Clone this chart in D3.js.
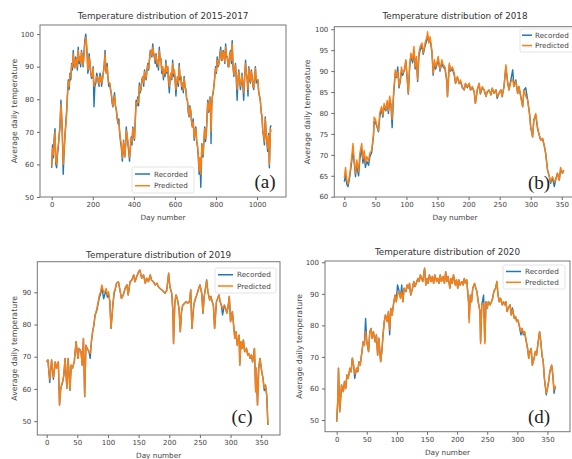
<!DOCTYPE html>
<html>
<head>
<meta charset="utf-8">
<script src="https://cdn.jsdelivr.net/npm/d3@7"></script>
<style>
  body { margin: 0; background: #fff; }
  svg { display: block; font-family: "DejaVu Sans", sans-serif; }
</style>
</head>
<body>
<div id="chart"></div>
<script>
// Series labels and colours
const seriesNames = ['Recorded', 'Predicted'];
const seriesColors = ['#1f77b4', '#ff7f0e'];

// (a) 2015-2017
const daysA = [0,4,8,12,16,20,24,28,32,36,40,45,50,53,56,60,65,69,73,77,81,85,89,93,97,101,105,109,113,117,121,125,129,133,137,141,145,149,153,157,161,166,170,173,176,179,182,185,190,194,198,202,206,210,215,219,223,227,231,235,239,243,247,251,255,260,263,266,270,274,278,282,286,290,294,298,302,306,310,315,319,323,327,331,335,339,344,347,350,353,356,360,363,367,371,375,379,383,387,391,395,399,403,407,411,415,419,423,427,431,435,439,444,448,452,456,460,464,468,472,476,480,484,488,492,496,500,504,508,512,516,520,524,528,532,536,540,544,548,552,556,560,565,569,573,577,581,585,589,593,597,601,605,609,613,617,621,625,629,633,637,641,645,649,653,657,661,665,669,673,677,681,685,689,694,698,702,706,710,714,718,722,726,729,731,734,737,741,745,749,753,756,760,763,766,769,771,775,776,779,782,786,790,794,798,802,806,810,815,819,823,827,831,835,839,843,847,851,855,859,863,867,871,875,879,883,887,891,895,899,903,907,911,915,919,923,927,931,935,939,944,948,952,956,960,964,968,972,976,980,984,988,992,996,1000,1004,1008,1012,1016,1020,1024,1028,1032,1036,1040,1044,1048,1052,1056,1060,1063,1065,1069];
const recordedA = [59,66,62,68,71,60,59,63,65,69,71.5,79.7,72.5,66,57,63,69.5,73,76.6,82,86,83,88,86,91,89,95,90,90,93,92,89,96,91,93,90,95,93,90,94,98,100,96,93,88,89,94,92,88,86.4,87,90,77.7,84,85,88,87,85,84,88,87,84,86,88,90,95,89,88,91,86.4,84,85,83,81.8,79,77.7,80,82,78,76.6,74,72.5,74,69.5,67,65.4,61,64,67.4,64,62.3,66,71.5,69,66.4,64,61,65,68.4,66,71.5,69,67.4,74,79.7,78,80.7,78,85,82,83,86,87,84,89,87,86,89,91,89,92,95,95,93,97,94,93,91,94,90,92,89,96,92,92.5,88,90,86,89,87,92,88,90,85,82,87,88,86,92,87,89,86,81,85,87,84,91,86,87,83,85,82,87,84,83,80,79.7,76,74.6,78,76.6,73,71.5,74,67.4,70,71.5,67,65.4,62,57,62,53,60,66.4,64,62.3,67,71.5,67,69.5,74,79.7,76,76.6,80,80.7,72,66.4,78,80.7,82,84,87,90,88,93,90,91,94,96,92,92,95,94,91,97,93,93,90,90,94,95,91,98,90,87,89,91,86,79.7,86,89,86,83,85,88,84,79.7,86,92,88,86,81,90,86,85,89,87,84,83,87,90,85,86,86,82,81,79.7,76,74.6,70,68.4,66,74.6,70,66.4,64,69.5,59,66,71.5,72];
const predictedA = [59.5,65,63,67,70,61,60,64,66,68,71,78.5,73,67,60,64,69,72,76,81,85.5,84,87.5,87,90.5,90,94,91,89.5,92,92.5,90,95,92,93,91,94.5,93,90.5,93,97,99,97,93.5,89,89.5,93,92,88.5,87,87,89.5,84,85,85.5,87,87,86,84.5,87,87,85,86,88,89.5,94,90,88,90,86.5,85,85,83.5,82,80,78,79.5,81,78.5,76.5,74.5,73,73,70,68,66,62,64,67,65,62.5,66,70.5,69,67,65,62,65,68,67,71,69.5,68,73,79,78.5,80,79,84,82.5,83.5,85.5,87,85,88.5,87.5,86.5,89,90.5,89.5,92,94,95,93.5,96,94.5,93,92,93.5,91,92,90,95,92,92.5,89,90,87,89,88,91,88.5,90,86,84,87,88,86.5,91,88,89,86,83,85.5,87,85,90,87,87,84,85,83,86.5,84,83,80.5,79.5,77,75,77.5,76.5,73.5,71.5,73,68,70,71,67.5,66,63,58,62,57,61,66,64,63,67,71,68,69.5,73.5,79,76.5,77,79.5,80.5,74,70,77,80.5,82,84,86.5,89.5,88.5,92,90.5,91,93,95,92.5,92,94.5,94,91.5,96,93.5,93,90.5,90,93.5,94.5,92,97,90.5,87.5,89,90.5,87,83,86,88.5,86,84,85.5,87.5,85,82,86,91,88,86.5,83,89.5,86.5,85.5,88.5,87,84.5,83.5,87,89.5,86,86,86,82.5,81,79.5,76.5,75,70.5,69,67,74,70,67,65,69,60,66,71,70];

// (b) 2018
const daysB = [0,2,4,6,9,12,14,16,18,20,23,25,28,30,32,34,36,39,41,44,47,48,50,53,55,57,60,62,64,67,69,71,73,75,77,79,82,84,86,88,90,92,94,97,99,101,103,105,107,110,112,114,116,118,120,122,125,127,130,133,134,136,138,141,143,145,147,149,151,154,157,159,162,165,166,169,171,174,177,179,182,185,187,190,193,195,198,201,203,206,209,211,214,217,219,222,225,228,230,233,236,238,241,244,246,249,252,254,257,260,263,265,268,271,273,276,279,281,284,287,289,292,295,298,300,303,305,308,311,313,316,319,322,324,327,330,332,335,338,340,343,346,348,351,353];
const recordedB = [63.6,65,63,62.4,65,68.5,71,68,64.8,67.5,65,69,71.5,68,70,67,68.5,67.5,69.5,70.5,74.5,78,77.8,76.5,75.5,79,81,79,81.5,80.5,82.5,79.9,83,82,76.5,83.5,89.5,88.5,91,86,87.5,90,89,90.5,92.5,88.5,84.5,90.5,93.5,92,95,90.5,93,87.5,93.5,95,96,94,96,97.5,98.5,97,97.5,94.5,89,92,90.5,91.5,93,90,92,91,90.5,87.5,83.9,91.5,90,90.5,89,87,88.5,87,87.5,86,85.5,87,86,87,85.5,86,85,82.3,85.5,87,84.5,86,85.5,84,85,85.5,84.3,85.9,84.7,85.5,83.5,84.7,85.5,83.9,86.3,91,87.1,85.5,87.9,90.3,86.3,87.9,84.7,86.3,83.9,81.5,85.5,86,83.1,79.9,76.5,74.3,78.3,79.5,76.2,75.1,73.5,73.9,72,70.4,66.4,64.8,63.2,64.5,62.4,64,65.6,64,66.5,65.6,66.4];
const predictedB = [64.5,67,64,63,65.6,69.6,72.7,68.5,65.5,68.8,66,70.4,72.7,69,71,68,69.6,68.5,70.4,71,75,79,78.5,76.7,75.8,80,81.5,79.5,82.3,80.7,83,80.5,84,82.3,78.5,84,90.3,88.7,89.8,86.5,88,91,89.5,90.3,92.7,88.7,84.7,91,94.3,92.7,95.9,91,93.5,88,94.3,95.9,96.7,94.3,96.7,98.2,99.4,96.7,98.2,95,89.5,92.7,91,91.9,93.5,90.3,92.7,91.5,91,87.9,83.9,91.9,90.3,91,89.5,87.1,88.7,87.1,87.9,86.3,85.5,87.1,86.3,87.1,85.5,86.3,85.1,82.3,85.5,87.1,84.7,86.3,85.5,83.9,85.1,85.5,84.3,85.9,84.7,85.5,83.9,84.7,85.5,83.9,86.3,91.5,87.1,85.5,87.5,88,86.3,87.5,84.7,86.3,83.9,81.5,85.5,84,83.1,79.9,76.7,74.3,78.3,79.9,76.7,75.1,73.5,73.9,72,70.4,66.4,64.8,63.5,64.8,63.5,64,65.6,64,67,65.6,66.4];

// (c) 2019
const daysC = [0,2,5,8,11,14,16,19,21,23,26,28,30,33,35,38,40,42,45,48,51,53,56,58,60,62,64,66,69,71,73,75,77,79,82,84,86,88,90,93,95,97,99,101,103,105,108,110,112,114,117,120,122,125,128,131,133,136,139,142,144,147,150,152,155,158,161,163,166,169,171,174,177,180,182,185,188,191,193,196,199,201,204,206,207,209,211,213,216,218,220,222,225,228,230,233,235,237,240,242,245,248,250,253,255,257,260,261,263,266,268,270,272,274,277,279,281,283,285,287,290,292,294,296,298,300,303,305,307,309,311,314,315,317,319,321,323,326,328,330,332,334,336,339,341,342,344,346,348,351,353,355,357,359,361];
const recordedC = [68.4,69,62,69,63,68.4,66.4,68.4,55,60.2,62,64.3,69.5,60.2,69.5,59.6,67.4,66.4,68.4,74.7,69.5,72.6,71.6,67.4,75.7,57.6,73.6,72.6,71.6,69.5,74.7,77.8,79.8,82.9,84.5,86.5,88.5,89.5,91.5,88,89.5,90.5,88.5,89.5,87.1,78.8,86,89.5,91,92.8,93.3,90.2,88.1,89.2,91.2,92.3,89.2,93.3,93.8,95.4,93.3,94.9,96.4,96.9,94.4,95.4,92.8,94.4,93.3,95.4,93.8,93.3,92.3,92.8,91.8,91.2,90.7,90.2,89.7,90.7,95.9,91.8,89.7,84,74.1,86.6,89.2,88.1,85,77.8,84,86,86.6,87.1,86.6,87.1,90.7,78.8,86,87.6,89.2,91.2,92.3,89.7,83.5,88.7,92.3,93.8,90.2,87.6,88.7,87.1,86,78.8,87.1,88.1,89.2,87.1,86,83,86,85,83.5,85.5,88.7,80.9,84,79.8,75.7,77.8,73.6,76.7,67.4,74.7,72.6,75.2,71.6,72.6,70.5,71,69.5,70.5,68.4,72.6,59.1,66.4,55,66.4,69.5,65.3,63.3,59.5,61.2,58.1,48.8];
const predictedC = [68.4,69,63,69,63.5,68.4,66.4,68.4,55,60.2,62.5,64.3,69.5,60.2,69.5,59.6,67.4,66.4,68.4,74.7,69.5,72.6,71.6,67.4,75.7,57.6,73.6,72.6,71.6,71,74.7,77.8,79.8,82.9,85,87.1,89.2,90.2,92.3,90,90.2,91.2,89.2,90.2,87.1,78.8,86,90.2,91.2,92.8,93.3,90.2,88.1,89.2,91.2,92.3,89.2,93.3,93.8,95.4,93.3,94.9,96.4,96.9,94.4,95.4,92.8,94.4,93.3,95.4,93.8,93.3,92.3,92.8,91.8,91.2,90.7,90.2,89.7,90.7,95.9,91.8,89.7,84,74.1,86.6,89.2,88.1,85,77.8,84,86,86.6,87.1,86.6,87.1,90.7,78.8,86,87.6,89.2,91.2,92.3,89.7,83.5,88.7,92.3,93.8,90.2,87.6,88.7,87.1,86,78.8,87.1,88.1,89.2,87.1,86,85,86,85,83.5,85.5,88.7,80.9,84,79.8,75.7,77.8,73.6,76.7,67.4,74.7,72.6,75.2,71.6,72.6,70.5,71,69.5,70.5,68.4,72.6,59.1,66.4,55,66.4,69.5,65.3,63.3,60.2,61.2,58.1,48.8];

// (d) 2020
const daysD = [0,2,3,5,7,8,11,13,15,17,19,22,24,26,28,30,33,35,37,39,42,44,46,48,50,53,55,57,59,61,64,66,68,70,73,75,77,79,81,84,86,88,90,92,95,97,99,101,104,106,108,110,112,115,117,119,121,123,126,128,130,132,135,137,139,141,143,146,148,150,152,154,157,159,161,163,166,168,170,172,174,177,179,181,183,185,188,190,192,194,197,199,201,203,205,208,210,212,214,216,219,220,222,224,226,229,231,233,235,238,239,241,244,246,248,250,252,255,257,259,261,264,266,268,270,272,275,277,279,281,283,286,288,290,292,295,297,299,301,303,306,308,310,312,315,317,319,321,323,325,328,330,332,334,337,339,341,343,345,348,350,352,354,357,359,361,363];
const recordedD = [49.5,56.9,66.4,52.6,57.9,61.1,59,62.2,60,64.3,63.2,66.4,65.3,69.6,67.4,63.2,66.4,65.3,68.5,67.4,71.7,74.8,73.8,82.2,74.8,71.7,78,79,75.9,78,74.8,77,70.6,75.9,68.5,71.7,77,81.2,83.3,81.2,84.4,77,85.4,83.3,87.5,89.6,87.5,92.8,90.7,88.6,92.8,87.5,91.8,90.7,92.8,91.8,93.3,89.6,91.8,93.9,92.3,93.3,94.9,93.9,96,94.9,93.9,98.1,92.8,94.9,93.3,96,93.9,95.5,93.3,96,93.9,94.9,93.3,96,93.9,95.5,93.3,97,93.9,95.5,91.8,94.9,93.3,96,92.8,94.4,91.8,94.4,92.8,93.9,92.8,94.9,93.3,94.4,87.5,82.2,89.6,87.5,91.8,93.3,91.8,90.7,87.5,84.4,74.8,86.5,89.6,74.8,87.5,85.4,87.5,86.5,87.5,88.6,90.7,91.8,93.9,89.6,87.5,88.6,86.5,87.5,86.5,87.5,84.4,85.9,86.5,83.3,85.5,82.2,82.8,81.2,81.7,80.1,77,79,77,78,74.8,72.7,69.6,71.7,72.7,67.4,69.6,71.7,70.6,73.8,78,74.8,70.6,68.5,63.2,58,60,62.2,65.3,67.4,64.3,58.5,60.5];
const predictedD = [49.5,56.9,66.4,52.6,57.9,61.1,59,62.2,60,64.3,63.2,66.4,65.3,69.6,67.4,64.5,66.4,65.3,68.5,67.4,71.7,74.8,73.8,78,74.8,71.7,78,79,75.9,78,74.8,77,70.6,75.9,68.5,71.7,77,81.2,83.3,81.2,84.4,78.5,85.4,83.3,87.5,89.6,87.5,89.6,90.7,88.6,90.5,87.5,91.8,90.7,92.8,91.8,93.3,89.6,91.8,93.9,92.3,93.3,94.9,93.9,96,94.9,93.9,98.1,92.8,94.9,93.3,96,93.9,95.5,93.3,96,93.9,94.9,93.3,96,93.9,95.5,93.3,97,93.9,95.5,91.8,94.9,93.3,96,92.8,94.4,91.8,94.4,92.8,93.9,92.8,94.9,93.3,94.4,87.5,80.8,89.6,87.5,91.8,93.3,91.8,90.7,87.5,84.4,74.2,86.5,87,74.2,87.5,85.4,87.5,86.5,87.5,88.6,90.7,91.8,93.9,89.6,87.5,88.6,86.5,87.5,86.5,87.5,84.4,85.9,86.5,83.3,84.9,82.2,82.8,81.2,81.7,80.1,78,79,77.5,78,74.8,72.7,69.6,71.7,72.7,67.4,69.6,71.7,70.6,73.8,78,74.8,70.6,68.5,63.2,58.5,60,62.2,65.3,67.4,64.3,59.5,61];

// Tick values
const xTicksA = [0, 200, 400, 600, 800, 1000];
const yTicksA = [50, 60, 70, 80, 90, 100];
const xTicksBCD = [0, 50, 100, 150, 200, 250, 300, 350];
const yTicksB = [60, 65, 70, 75, 80, 85, 90, 95, 100];
const yTicksC = [50, 60, 70, 80, 90];
const yTicksD = [50, 60, 70, 80, 90, 100];

const panels = [
  { id: 'a', title: 'Temperature distribution of 2015-2017', tag: '(a)',
    days: daysA, rec: recordedA, pred: predictedA,
    box: { left: 40, right: 286, top: 25, bottom: 197 },
    xDomain: [-57, 1141], yDomain: [50, 102.8], xTicks: xTicksA, yTicks: yTicksA,
    titleY: 19, ylabelX: 14,
    legend: { x: 132, y: 167, w: 62, h: 26, l0: 3, l1: 18, tx: 22 }, tagPos: [265, 188] },
  { id: 'b', title: 'Temperature distribution of 2018', tag: '(b)',
    days: daysB, rec: recordedB, pred: predictedB,
    box: { left: 334.3, right: 582, top: 26.7, bottom: 197 },
    xDomain: [-16.1, 382.5], yDomain: [59.93, 100.6], xTicks: xTicksBCD, yTicks: yTicksB,
    titleY: 19, titleX: 455, ylabelX: 307.5,
    legend: { x: 520, y: 29, w: 62, h: 23, l0: 2, l1: 12, tx: 15 }, tagPos: [539, 189] },
  { id: 'c', title: 'Temperature distribution of 2019', tag: '(c)',
    days: daysC, rec: recordedC, pred: predictedC,
    box: { left: 37.3, right: 280, top: 261.7, bottom: 435 },
    xDomain: [-15.3, 380.7], yDomain: [45.7, 99.5], xTicks: xTicksBCD, yTicks: yTicksC,
    titleY: 257.5, ylabelX: 14,
    legend: { x: 215, y: 268, w: 61, h: 25, l0: 3, l1: 18, tx: 22 }, tagPos: [242, 423] },
  { id: 'd', title: 'Temperature distribution of 2020', tag: '(d)',
    days: daysD, rec: recordedD, pred: predictedD,
    box: { left: 325, right: 570, top: 261, bottom: 431.7 },
    xDomain: [-19.4, 387.5], yDomain: [46.3, 100.4], xTicks: xTicksBCD, yTicks: yTicksD,
    titleY: 255, ylabelX: 299,
    legend: { x: 503, y: 265, w: 62, h: 24, l0: 3, l1: 18, tx: 22 }, tagPos: [539, 423] }
];

const svg = d3.select('#chart').append('svg')
  .attr('width', 572)
  .attr('height', 459);

svg.append('defs');

const drawPanel = (p) => {
  const b = p.box;
  const x = d3.scaleLinear().domain(p.xDomain).range([b.left, b.right]);
  const y = d3.scaleLinear().domain(p.yDomain).range([b.bottom, b.top]);
  const g = svg.append('g').attr('class', 'panel-' + p.id);

  // clip so lines stay inside the frame
  svg.select('defs').append('clipPath').attr('id', 'clip-' + p.id)
    .append('rect')
    .attr('x', b.left).attr('y', b.top)
    .attr('width', b.right - b.left).attr('height', b.bottom - b.top);

  // lines: recorded first, predicted drawn on top
  const line = d3.line().x(d => x(d[0])).y(d => y(d[1]));
  [p.rec, p.pred].forEach((vals, i) => {
    g.append('path')
      .datum(p.days.map((d, j) => [d, vals[j]]))
      .attr('clip-path', `url(#clip-${p.id})`)
      .attr('fill', 'none')
      .attr('stroke', seriesColors[i])
      .attr('stroke-width', 1.4)
      .attr('stroke-linejoin', 'round')
      .attr('d', line);
  });

  // axes
  const xAxis = g.append('g')
    .attr('transform', `translate(0,${b.bottom})`)
    .call(d3.axisBottom(x).tickValues(p.xTicks).tickFormat(d3.format('d')).tickSize(3).tickPadding(2.5));
  const yAxis = g.append('g')
    .attr('transform', `translate(${b.left},0)`)
    .call(d3.axisLeft(y).tickValues(p.yTicks).tickFormat(d3.format('d')).tickSize(3).tickPadding(3));
  [xAxis, yAxis].forEach(ax => {
    ax.select('.domain').remove();
    ax.selectAll('line').attr('stroke', '#666');
    ax.selectAll('text').attr('font-size', 7).attr('fill', '#444')
      .attr('font-family', '"DejaVu Sans", sans-serif');
  });

  // frame
  g.append('rect')
    .attr('x', b.left).attr('y', b.top)
    .attr('width', b.right - b.left).attr('height', b.bottom - b.top)
    .attr('fill', 'none').attr('stroke', '#777').attr('stroke-width', 1);

  // title + axis names
  g.append('text')
    .text(p.title)
    .attr('x', p.titleX || (b.left + b.right) / 2)
    .attr('y', p.titleY)
    .attr('text-anchor', 'middle')
    .attr('font-size', 8.8)
    .attr('fill', '#333');
  g.append('text')
    .text('Day number')
    .attr('x', p.titleX || (b.left + b.right) / 2)
    .attr('y', b.bottom + 23)
    .attr('text-anchor', 'middle')
    .attr('font-size', 7.3)
    .attr('fill', '#444');
  g.append('text')
    .text('Average daily temperature')
    .attr('transform', `translate(${p.ylabelX}, ${(b.top + b.bottom) / 2}) rotate(-90)`)
    .attr('dy', '0.35em')
    .attr('text-anchor', 'middle')
    .attr('font-size', 7.8)
    .attr('fill', '#444');

  // legend
  const lg = p.legend;
  const leg = g.append('g').attr('transform', `translate(${lg.x},${lg.y})`);
  leg.append('rect')
    .attr('width', lg.w).attr('height', lg.h).attr('rx', 2)
    .attr('fill', '#fff').attr('fill-opacity', 0.85)
    .attr('stroke', '#ddd').attr('stroke-width', 0.8);
  seriesNames.forEach((name, i) => {
    const yy = lg.h * (i === 0 ? 0.27 : 0.72);
    leg.append('line')
      .attr('x1', lg.l0).attr('x2', lg.l1).attr('y1', yy).attr('y2', yy)
      .attr('stroke', seriesColors[i]).attr('stroke-width', 1.5);
    leg.append('text')
      .text(name)
      .attr('x', lg.tx).attr('y', yy)
      .attr('dy', '0.35em')
      .attr('font-size', 7.2)
      .attr('fill', '#444');
  });

  // panel tag
  g.append('text')
    .text(p.tag)
    .attr('x', p.tagPos[0]).attr('y', p.tagPos[1])
    .attr('text-anchor', 'middle')
    .attr('font-family', '"Liberation Serif", "DejaVu Serif", serif')
    .attr('font-size', 19)
    .attr('fill', '#222');
};

panels.forEach(drawPanel);
</script>
</body>
</html>
